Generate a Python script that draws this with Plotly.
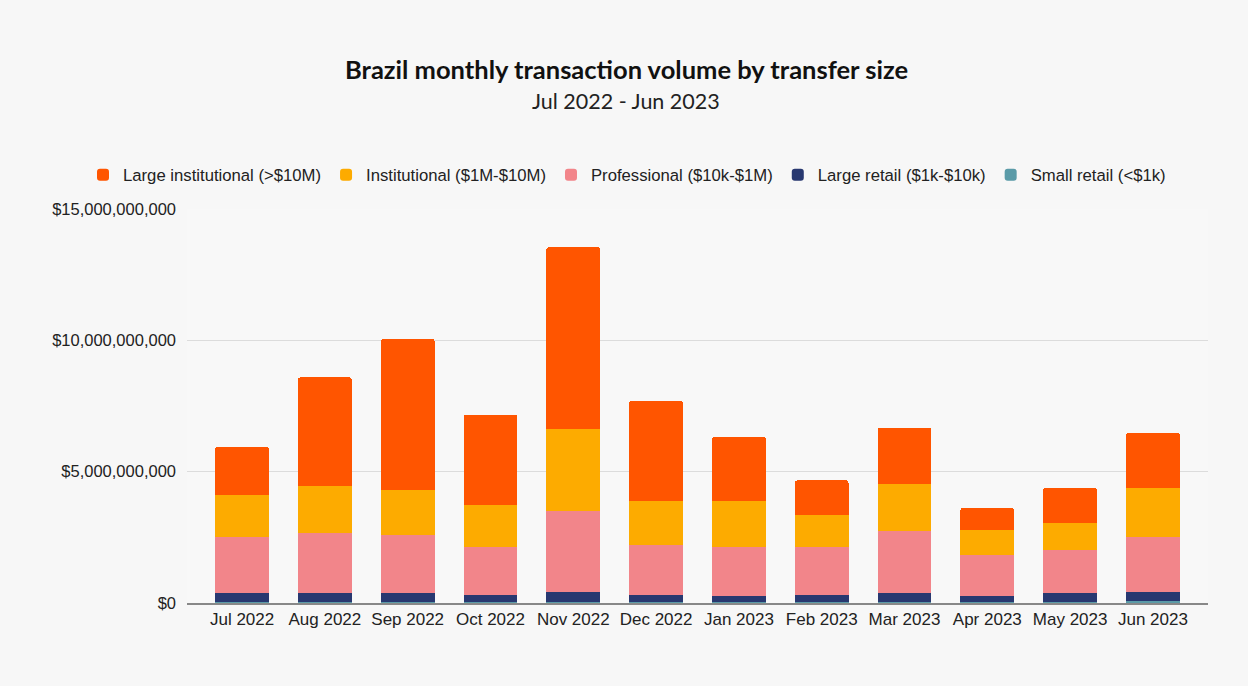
import plotly.graph_objects as go

months = ["Jul 2022", "Aug 2022", "Sep 2022", "Oct 2022", "Nov 2022", "Dec 2022",
          "Jan 2023", "Feb 2023", "Mar 2023", "Apr 2023", "May 2023", "Jun 2023"]

# values in billions of USD
small_retail = [0.05, 0.05, 0.05, 0.05, 0.05, 0.05, 0.05, 0.05, 0.05, 0.05, 0.05, 0.09]
large_retail = [0.33, 0.33, 0.33, 0.27, 0.37, 0.27, 0.23, 0.27, 0.33, 0.23, 0.33, 0.33]
professional = [2.14, 2.28, 2.19, 1.82, 3.07, 1.87, 1.86, 1.80, 2.37, 1.56, 1.64, 2.10]
institutional = [1.60, 1.78, 1.73, 1.58, 3.15, 1.70, 1.75, 1.23, 1.78, 0.95, 1.01, 1.87]
large_institutional = [1.82, 4.15, 5.76, 3.45, 6.91, 3.80, 2.43, 1.32, 2.14, 0.83, 1.36, 2.10]

series = [
    ("Small retail (<$1k)", small_retail, "#5b9ba8"),
    ("Large retail ($1k-$10k)", large_retail, "#283870"),
    ("Professional ($10k-$1M)", professional, "#f2858a"),
    ("Institutional ($1M-$10M)", institutional, "#fdab00"),
    ("Large institutional (>$10M)", large_institutional, "#ff5500"),
]

W, H = 1248, 686
L, R, T, B = 187, 40, 209, 83
PW, PH = W - L - R, H - T - B


def fx(px):
    return (px - L) / PW


def fy(py):
    return (H - B - py) / PH


fig = go.Figure()
for name, vals, color in series:
    fig.add_trace(go.Bar(
        x=months, y=[v * 1e9 for v in vals], name=name,
        marker=dict(color=color, line=dict(width=0)),
    ))

fig.update_layout(
    width=W, height=H,
    barmode="stack", bargap=0.35, barcornerradius=3,
    paper_bgcolor="#f7f7f7", plot_bgcolor="#f8f8f8",
    margin=dict(l=L, r=R, t=T, b=B, autoexpand=False),
    font=dict(family="Liberation Sans, Arial, sans-serif", size=16, color="#222222"),
    legend=dict(orientation="h", traceorder="reversed",
                x=fx(83), xanchor="left", y=fy(175), yanchor="middle",
                font=dict(size=16.7, color="#222222"), itemwidth=30,
                bgcolor="rgba(0,0,0,0)"),
    xaxis=dict(range=[-0.665, 11.665], showgrid=False, showline=True,
               linecolor="#888888", linewidth=1.5, ticks="",
               tickfont=dict(size=17, color="#222222")),
    yaxis=dict(range=[0, 15e9], tickvals=[0, 5e9, 10e9, 15e9],
               tickformat="$,.0f", gridcolor="#dcdcdc", gridwidth=1,
               zeroline=False, ticks="", ticklabelstandoff=10,
               tickfont=dict(size=16.5, color="#222222")),
    annotations=[
        dict(text="<b>Brazil monthly transaction volume by transfer size</b>",
             xref="paper", yref="paper", x=fx(626), y=fy(69),
             xanchor="center", yanchor="middle", showarrow=False,
             font=dict(family="Lato, sans-serif", size=25.5, color="#111111")),
        dict(text="Jul 2022 - Jun 2023",
             xref="paper", yref="paper", x=fx(626), y=fy(101),
             xanchor="center", yanchor="middle", showarrow=False,
             font=dict(family="Lato, sans-serif", size=21.5, color="#222222")),
    ],
)

fig.write_html("out.html", config={"displayModeBar": False},
               post_script="document.body.style.margin='0';")
